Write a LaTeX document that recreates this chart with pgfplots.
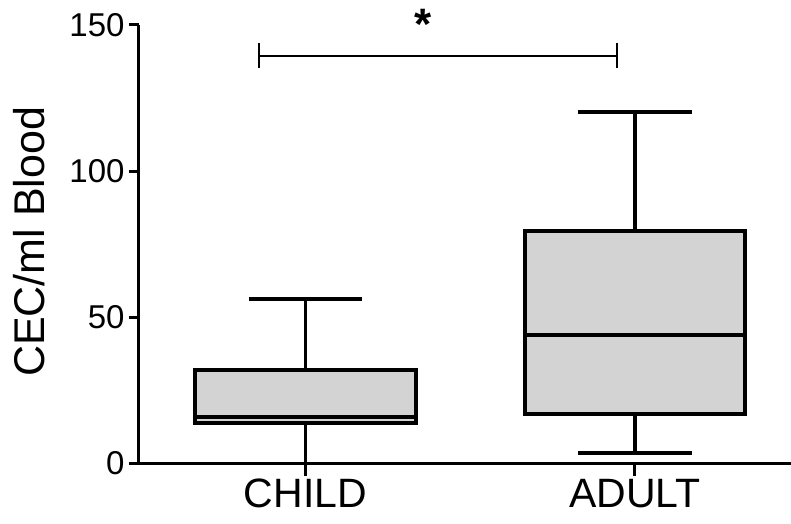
\documentclass[border=0pt]{standalone}
\usepackage{fontspec}
\setmainfont{Liberation Sans}
\usepackage{pgfplots}
\pgfplotsset{compat=1.18}
\definecolor{boxgray}{HTML}{D3D3D3}
\begin{document}
\begin{tikzpicture}
\begin{axis}[
  scale only axis,
  width=652pt, height=438pt,
  at={(0,0)}, anchor=south west,
  xmin=-0.505, xmax=1.4735,
  ymin=0, ymax=150,
  clip=false,
  axis x line=bottom, axis y line=left,
  axis line style={-, line width=3pt, black},
  tick align=outside,
  xtick={0,1}, xticklabels={CHILD,ADULT},
  ytick={0,50,100,150},
  xtick style={line width=3pt, black},
  ytick style={line width=3pt, black},
  x tick style={/pgfplots/major tick length=13pt},
  y tick style={/pgfplots/major tick length=10pt},
  /pgf/number format/assume math mode=true,
  yticklabel style={font=\fontsize{33}{40}\selectfont, inner sep=6pt, xshift=-4pt},
  xticklabel style={font=\fontsize{41}{48}\selectfont, anchor=base, yshift=-40pt},
  ylabel={CEC/ml Blood},
  ylabel style={font=\fontsize{43}{50}\selectfont, at={(axis description cs:-0.168,0.505)}, anchor=center},
]
% CHILD
\addplot[draw=black, fill=boxgray, line width=4pt] coordinates {(-0.335,13.7) (0.335,13.7) (0.335,31.8) (-0.335,31.8)} -- cycle;
\addplot[black, line width=4pt] coordinates {(-0.335,15.8) (0.335,15.8)};
\addplot[black, line width=3.5pt] coordinates {(0,31.8) (0,56.2)};
\addplot[black, line width=3.5pt] coordinates {(-0.1725,56.2) (0.1725,56.2)};
\addplot[black, line width=3.5pt] coordinates {(0,13.7) (0,0)};
% ADULT
\addplot[draw=black, fill=boxgray, line width=4pt] coordinates {(0.665,16.8) (1.335,16.8) (1.335,79.5) (0.665,79.5)} -- cycle;
\addplot[black, line width=4pt] coordinates {(0.665,43.8) (1.335,43.8)};
\addplot[black, line width=3.5pt] coordinates {(1,79.5) (1,120.2)};
\addplot[black, line width=3.5pt] coordinates {(0.8275,120.2) (1.1725,120.2)};
\addplot[black, line width=3.5pt] coordinates {(1,16.8) (1,3.4)};
\addplot[black, line width=3.5pt] coordinates {(0.8275,3.4) (1.1725,3.4)};
% significance bar
\addplot[black, line width=2pt] coordinates {(-0.141,139.4) (0.945,139.4)};
\addplot[black, line width=2pt] coordinates {(-0.141,135.2) (-0.141,143.8)};
\addplot[black, line width=2pt] coordinates {(0.945,135.2) (0.945,143.8)};
\node[font=\fontsize{44}{52}\selectfont\bfseries, anchor=base, inner sep=0pt] at (axis cs:0.357,145.2) {*};
\end{axis}
\pgfresetboundingbox
\useasboundingbox (-139pt,-60pt) rectangle (652pt,463pt);
\end{tikzpicture}
\end{document}
